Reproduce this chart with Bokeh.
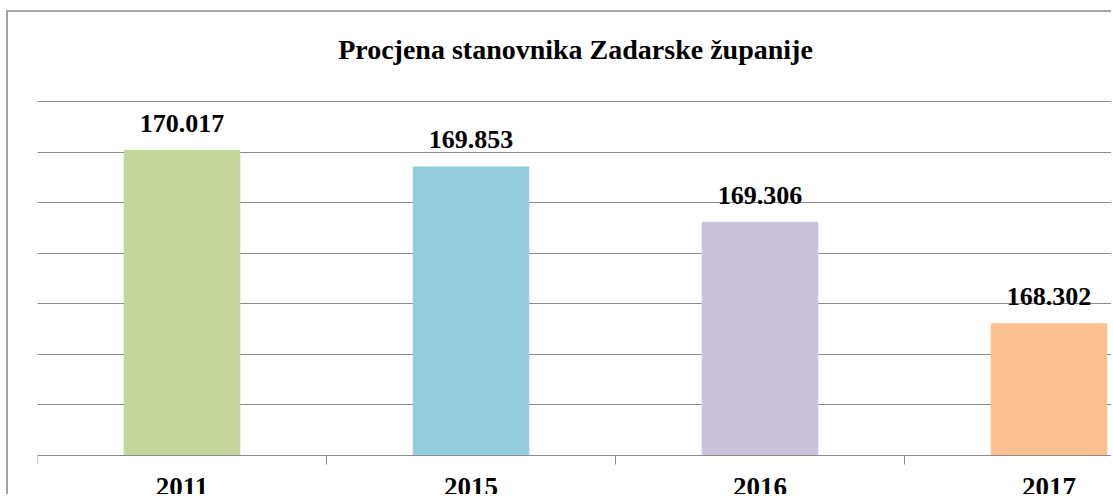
from bokeh.plotting import figure
from bokeh.models import ColumnDataSource, FixedTicker, Label, Range1d
from bokeh.embed import file_html
from bokeh.resources import INLINE

years = ["2011", "2015", "2016", "2017"]
population = [170017, 169853, 169306, 168302]
colors = ["#C3D69B", "#93CDDD", "#CCC1DA", "#FAC090"]
title_text = "Procjena stanovnika Zadarske županije"

Y0, YTOP, YSTEP = 167000, 170500, 500
xs = [i + 0.5 for i in range(len(years))]
labels = [f"{v:,}".replace(",", ".") for v in population]

src = ColumnDataSource(dict(x=xs, top=population, color=colors))

XMAX = 1076 / 289
PX_PER_UNIT = 354 / (YTOP - Y0)
YMAX = Y0 + 443 / PX_PER_UNIT
YMIN = Y0 - 41 / PX_PER_UNIT
p = figure(width=1105, height=484, output_backend="svg", toolbar_location=None,
           x_range=Range1d(0, XMAX), y_range=Range1d(YMIN, YMAX),
           min_border_left=29, min_border_right=0, min_border_top=0, min_border_bottom=0)
p.margin = (10, 0, 0, 6)
p.styles = {"border-left": "2px solid #a3a3a3", "border-top": "2px solid #a3a3a3"}
p.outline_line_color = None
p.background_fill_color = "white"
p.border_fill_color = "white"

p.add_layout(Label(x=XMAX / 2, y=YTOP, y_offset=52, text=title_text,
                   text_align="center", text_baseline="alphabetic",
                   text_font="Liberation Serif", text_font_size="28px",
                   text_font_style="bold", text_color="black"))

p.vbar(x="x", top="top", bottom=Y0, width=0.4, color="color", source=src)

for x, v, lab in zip(xs, population, labels):
    p.add_layout(Label(x=x, y=v, y_offset=27, text=lab,
                       text_align="center", text_baseline="alphabetic",
                       text_font="Liberation Serif", text_font_size="26px",
                       text_font_style="bold", text_color="black"))

p.yaxis.visible = False
p.ygrid.ticker = FixedTicker(ticks=list(range(Y0 + YSTEP, YTOP + 1, YSTEP)))
p.ygrid.grid_line_color = "#8c8c8c"
p.ygrid.grid_line_width = 1.2
p.xgrid.visible = False

ax = p.xaxis[0]
ax.fixed_location = Y0
ax.ticker = FixedTicker(ticks=xs, minor_ticks=list(range(len(years) + 1)))
ax.major_label_overrides = {x: y for x, y in zip(xs, years)}
ax.major_tick_out = 0
ax.major_tick_in = 0
ax.minor_tick_out = 9
ax.minor_tick_in = 0
ax.minor_tick_line_color = "#8c8c8c"
ax.axis_line_color = "#8c8c8c"
ax.axis_line_width = 1.2
ax.major_label_standoff = 13
ax.major_label_text_font = "Liberation Serif"
ax.major_label_text_font_size = "27px"
ax.major_label_text_font_style = "bold"
ax.major_label_text_color = "black"

open("out.html", "w").write(file_html(p, INLINE))
